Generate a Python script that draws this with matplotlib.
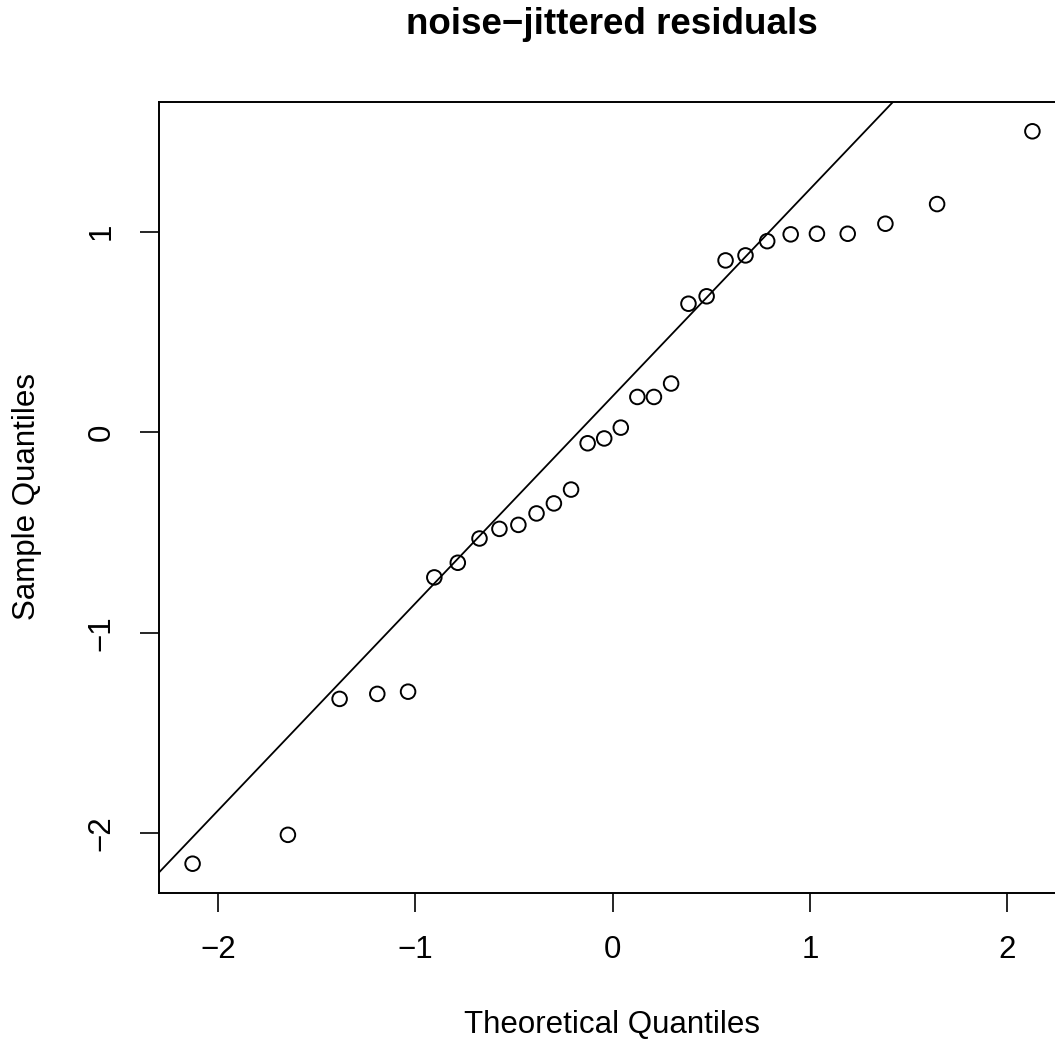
from statistics import NormalDist

import matplotlib

matplotlib.use("Agg")
import matplotlib.pyplot as plt
import numpy as np

# theoretical normal quantiles (n = 30) and the sorted sample values
theoretical = [
    -2.128, -1.645, -1.383, -1.192, -1.036, -0.903, -0.784, -0.674, -0.573, -0.477,
    -0.385, -0.297, -0.210, -0.126, -0.042, 0.042, 0.126, 0.210, 0.297, 0.385,
    0.477, 0.573, 0.674, 0.784, 0.903, 1.036, 1.192, 1.383, 1.645, 2.128,
]
sample = [
    -2.152, -2.008, -1.330, -1.305, -1.294, -0.724, -0.651, -0.530, -0.482, -0.462,
    -0.405, -0.355, -0.286, -0.055, -0.031, 0.023, 0.176, 0.176, 0.243, 0.641,
    0.678, 0.857, 0.882, 0.953, 0.987, 0.990, 0.990, 1.040, 1.138, 1.501,
]
x_ticks = [-2, -1, 0, 1, 2]
y_ticks = [-2, -1, 0, 1]

plt.rcParams["font.family"] = ["Liberation Sans", "DejaVu Sans"]

W, H = 1055, 1046
fig = plt.figure(figsize=(W / 100, H / 100), dpi=100)

# plot box in pixels: left 159, right 1066 (past the image edge), top 102, bottom 893
ax = fig.add_axes([159 / W, (H - 893) / H, (1066 - 159) / W, (893 - 102) / H])

ax.scatter(theoretical, sample, s=110, facecolors="none", edgecolors="black",
           linewidths=1.4, zorder=3)

# reference line through the quartiles, like R's qqline
q1, q3 = np.quantile(sample, [0.25, 0.75])
z = NormalDist().inv_cdf(0.75)
slope = (q3 - q1) / (2 * z)
intercept = q1 + slope * z
ax.axline((0, intercept), slope=slope, color="black", linewidth=1.3, zorder=2)

# R-style 4% padding
xr = max(theoretical) - min(theoretical)
yr = max(sample) - min(sample)
ax.set_xlim(min(theoretical) - 0.04 * xr, max(theoretical) + 0.04 * xr)
ax.set_ylim(min(sample) - 0.04 * yr, max(sample) + 0.04 * yr)

ax.set_xticks(x_ticks)
ax.set_xticklabels(["\u22122", "\u22121", "0", "1", "2"])
ax.set_yticks(y_ticks)
ax.set_yticklabels(["\u22122", "\u22121", "0", "1"])
ax.tick_params(direction="out", length=13.5, width=1.2, labelsize=22.5, pad=17)
ax.tick_params(axis="y", labelrotation=90)
for lbl in ax.get_yticklabels():
    lbl.set_va("center")

for sp in ax.spines.values():
    sp.set_linewidth(1.4)

fig.text(612 / W, 1 - 25 / H, "noise\u2212jittered residuals", ha="center",
         va="center", fontsize=26.5, fontweight="bold")
fig.text(612 / W, 1 - 1025 / H, "Theoretical Quantiles", ha="center",
         va="center", fontsize=22.5)
fig.text(27 / W, 1 - 497 / H, "Sample Quantiles", ha="center", va="center",
         fontsize=22.5, rotation=90)

fig.savefig("out.png", dpi=100)
